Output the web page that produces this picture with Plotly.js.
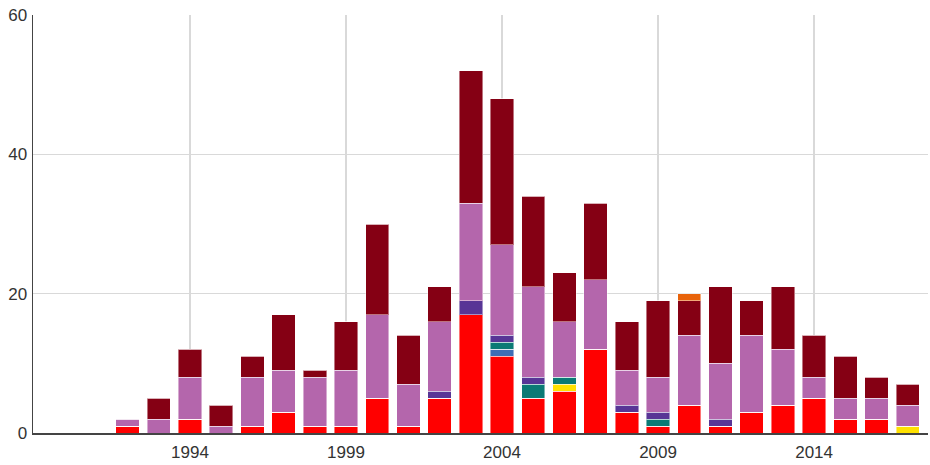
<!DOCTYPE html>
<html><head><meta charset="utf-8">
<script src="https://cdn.plot.ly/plotly-3.0.1.min.js"></script>
<style>html,body{margin:0;padding:0;background:#fff}#c{width:930px;height:465px}</style>
</head><body><div id="c"></div>
<script>
const years = [1992,1993,1994,1995,1996,1997,1998,1999,2000,2001,2002,2003,2004,2005,2006,2007,2008,2009,2010,2011,2012,2013,2014,2015,2016,2017];
const redVals     = [1,0,2,0,1,3,1,1,5,1,5,17,11,5,6,12,3,1,4,1,3,4,5,2,2,0];
const blueVals    = [0,0,0,0,0,0,0,0,0,0,0,0,1,0,0,0,0,0,0,0,0,0,0,0,0,0];
const yellowVals  = [0,0,0,0,0,0,0,0,0,0,0,0,0,0,1,0,0,0,0,0,0,0,0,0,0,1];
const tealVals    = [0,0,0,0,0,0,0,0,0,0,0,0,1,2,1,0,0,1,0,0,0,0,0,0,0,0];
const purpleVals  = [0,0,0,0,0,0,0,0,0,0,1,2,1,1,0,0,1,1,0,1,0,0,0,0,0,0];
const pinkVals    = [1,2,6,1,7,6,7,8,12,6,10,14,13,13,8,10,5,5,10,8,11,8,3,3,3,3];
const darkredVals = [0,3,4,3,3,8,1,7,13,7,5,19,21,13,7,11,7,11,5,11,5,9,6,6,3,3];
const orangeVals  = [0,0,0,0,0,0,0,0,0,0,0,0,0,0,0,0,0,0,1,0,0,0,0,0,0,0];
const xTicks = [1994,1999,2004,2009,2014];

const series = [
  {v: redVals, c: '#FF0000'},
  {v: blueVals, c: '#3E6DB5'},
  {v: yellowVals, c: '#FFE100'},
  {v: tealVals, c: '#0B7A75'},
  {v: purpleVals, c: '#583596'},
  {v: pinkVals, c: '#B466AC'},
  {v: darkredVals, c: '#850014'},
  {v: orangeVals, c: '#E8630A'}
];
const traces = series.map(s => ({
  type: 'bar', x: years, y: s.v,
  marker: {color: s.c, line: {color: 'rgba(255,255,255,0.45)', width: 1}},
  hoverinfo: 'x+y'
}));

const layout = {
  width: 930, height: 465,
  margin: {l: 33, r: 2, t: 15, b: 32},
  barmode: 'stack', bargap: 0.25,
  showlegend: false,
  paper_bgcolor: '#fff', plot_bgcolor: '#fff',
  font: {family: 'Liberation Sans, Arial, sans-serif', size: 17, color: '#333'},
  xaxis: {
    range: [1988.97, 2017.65], tickvals: xTicks, ticktext: xTicks.map(String),
    showgrid: true, gridcolor: '#d9d9d9', gridwidth: 1.5,
    showline: true, linecolor: '#444', linewidth: 1.5,
    zeroline: false, ticks: '', ticklabelstandoff: 3, fixedrange: true
  },
  yaxis: {
    range: [0, 60], tickvals: [0,20,40,60],
    showgrid: true, gridcolor: '#d9d9d9', gridwidth: 1.5,
    showline: true, linecolor: '#444', linewidth: 1.5,
    zeroline: false, ticks: '', ticklabelstandoff: 1, fixedrange: true
  }
};
Plotly.newPlot('c', traces, layout, {displayModeBar: false, staticPlot: true});
</script></body></html>
